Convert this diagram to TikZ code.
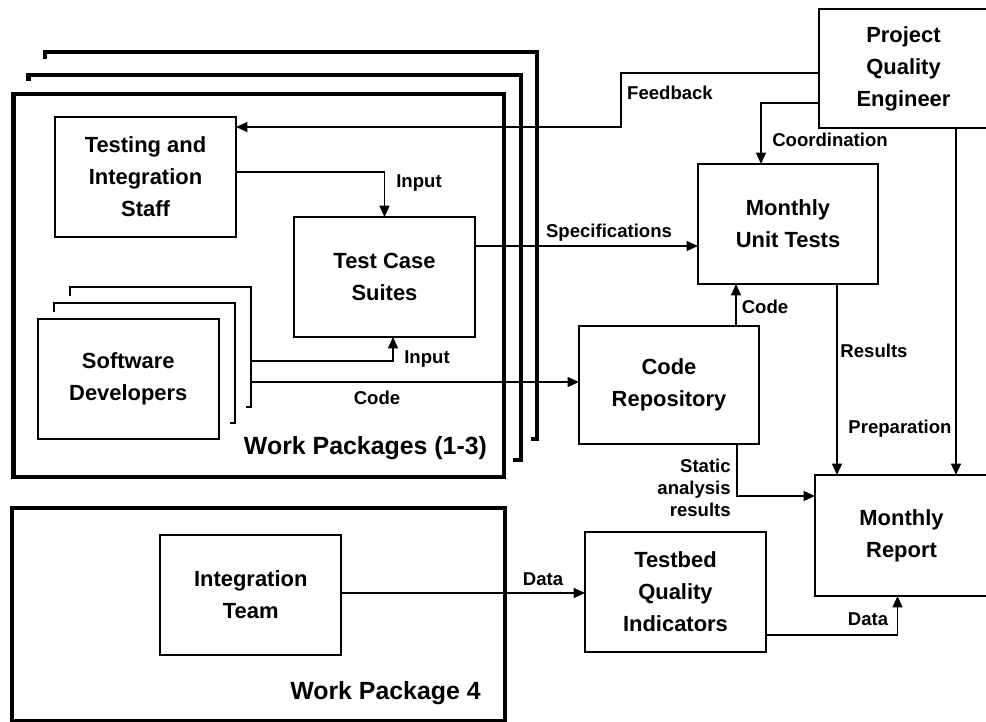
\documentclass[tikz,border=0pt]{standalone}
\usepackage{fontspec}
\setmainfont{Liberation Sans}
\usetikzlibrary{arrows.meta}

\newcommand\boxfont{\fontsize{15.6}{22.7}\selectfont\bfseries}
\newcommand\lblfont{\fontsize{13.2}{15.6}\selectfont\bfseries}
\newcommand\titlefont{\fontsize{17.7}{20}\selectfont\bfseries}

\begin{document}
\begin{tikzpicture}[x=0.025cm, y=-0.025cm,
   box/.style={draw, line width=1.4pt, fill=white, inner sep=0pt, outer sep=0pt,
      minimum width=4.525cm, minimum height=3cm, align=center, font=\boxfont},
   frame/.style={line width=3.2pt},
   stack/.style={line width=1.4pt},
   flow/.style={line width=1.1pt, -{Triangle[length=8pt,width=7pt]}},
   lbl/.style={font=\lblfont, inner sep=0pt},
   title/.style={font=\titlefont, inner sep=0pt}]

\useasboundingbox (0,0) rectangle (986,722);
\clip (0,0) rectangle (986,722);

% work package frames
\draw[frame] (45,59) |- (537,52) |- (531,439);
\draw[frame] (28.6,81) |- (521,75) |- (512.5,460);
\draw[frame] (13.6,94) rectangle (504,477);
\draw[frame] (12,508) rectangle (505,721);

\node[box] (test) at (145.5,177) {Testing and\\Integration\\Staff};
\node[box] (suite) at (384.5,277) {Test Case\\Suites};

% developers, stacked
\draw[stack] (69.6,296) |- (250.7,287) |- (245.7,407);
\draw[stack] (53.6,312) |- (234.6,303) |- (230,423);
\node[box] (dev) at (128.3,379) {Software\\Developers};
\coordinate (devedge) at (250.7,0);

\node[box, minimum width=4.225cm, minimum height=2.975cm] (pqe) at (903.5,68.5) {Project\\Quality\\Engineer};
\node[box, minimum width=4.5cm] (mut) at (788,224) {Monthly\\Unit Tests};
\node[box, minimum width=4.5cm, minimum height=2.95cm] (repo) at (669,385) {Code\\Repository};
\node[box, minimum width=4.325cm, minimum height=3.025cm] (rep) at (901.5,535.5) {Monthly\\Report};
\node[box] (team) at (250.75,595) {Integration\\Team};
\node[box] (tqi) at (675.5,592) {Testbed\\Quality\\Indicators};

% connectors
\draw[flow] (pqe.west |- 0,73) -| (621,127) -- (test.east |- 0,127);
\draw[flow] (pqe.west |- 0,103) -| (761,0 |- mut.north);
\draw[flow] (test.east |- 0,172) -| (suite.north);
\draw[flow] (suite.east |- 0,246) -- (mut.west |- 0,246);
\draw[flow] (devedge |- 0,361) -| (393,0 |- suite.south);
\draw[flow] (devedge |- 0,382) -- (repo.west |- 0,382);
\draw[flow] (736,0 |- repo.north) -- (736,0 |- mut.south);
\draw[flow] (837,0 |- mut.south) -- (837,0 |- rep.north);
\draw[flow] (956,0 |- pqe.south) -- (956,0 |- rep.north);
\draw[flow] (737,0 |- repo.south) |- (rep.west |- 0,496);
\draw[flow] (team.east |- 0,593) -- (tqi.west |- 0,593);
\draw[flow] (tqi.east |- 0,635) -| (897.5,0 |- rep.south);

\node[lbl] (lfeed) at (670,93) {Feedback};
\node[lbl] (lcoord) at (830,140) {Coordination};
\node[lbl] (lin1) at (419,183) {Input};
\node[lbl] (lspec) at (609,233) {Specifications};
\node[lbl] (lin2) at (427,359) {Input};
\node[lbl] (lcode1) at (377,398) {Code};
\node[lbl] (lcode2) at (765,307) {Code};
\node[lbl] (lres) at (874,351) {Results};
\node[lbl] (lprep) at (900,429) {Preparation};
\node[lbl, align=right, anchor=east] (lstat) at (731,488) {Static\\analysis\\results};
\node[lbl] (ldata1) at (543,579) {Data};
\node[lbl] (ldata2) at (868,619) {Data};
\node[title] (wp13) at (365.5,448) {Work Packages (1-3)};
\node[title] (wp4) at (385.5,693) {Work Package 4};

\end{tikzpicture}
\end{document}
